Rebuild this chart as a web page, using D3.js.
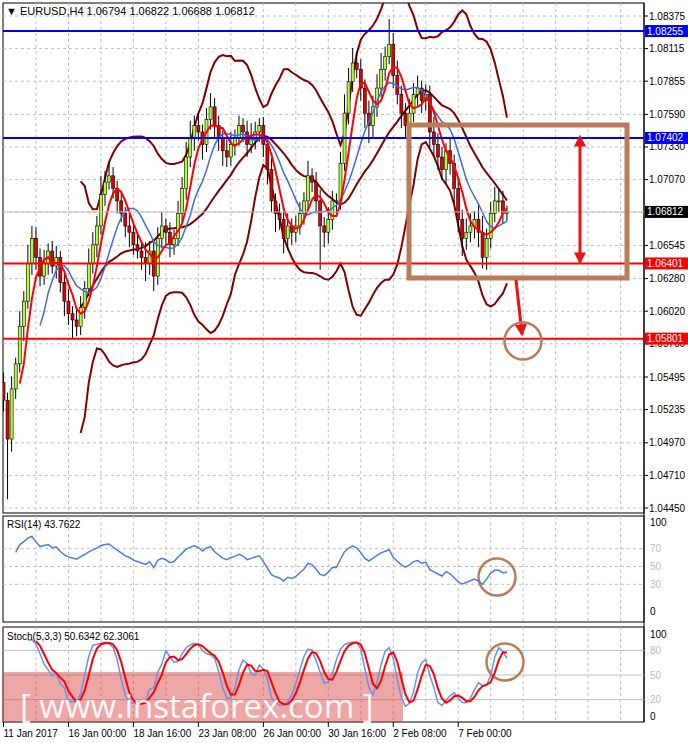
<!DOCTYPE html>
<html><head><meta charset="utf-8">
<script src="https://cdnjs.cloudflare.com/ajax/libs/d3/7.8.5/d3.min.js"></script>
<style>body{margin:0;background:#fff}svg{display:block;font-family:"Liberation Sans",Arial,sans-serif}</style>
</head><body>
<script>
const closes=[1.0531,1.0500,1.0540,1.0560,1.0590,1.0610,1.0640,1.0660,1.0645,1.0630,1.0640,1.0650,1.0638,1.0645,1.0625,1.0610,1.0600,1.0595,1.0590,1.0605,
1.0620,1.0640,1.0655,1.0670,1.0695,1.0705,1.0710,1.0700,1.0690,1.0680,1.0670,1.0665,1.0655,1.0650,1.0645,1.0640,1.0650,1.0630,1.0660,1.0670,
1.0665,1.0655,1.0660,1.0680,1.0700,1.0725,1.0740,1.0750,1.0745,1.0735,1.0755,1.0765,1.0750,1.0740,1.0730,1.0725,1.0735,1.0740,1.0750,1.0745,
1.0735,1.0740,1.0745,1.0750,1.0735,1.0715,1.0690,1.0680,1.0675,1.0660,1.0670,1.0665,1.0670,1.0680,1.0690,1.0710,1.0705,1.0690,1.0670,1.0665,
1.0675,1.0690,1.0690,1.0720,1.0760,1.0785,1.0800,1.0795,1.0780,1.0760,1.0750,1.0765,1.0780,1.0795,1.0805,1.0815,1.0790,1.0775,1.0760,1.0750,
1.0760,1.0775,1.0780,1.0770,1.0775,1.0745,1.0735,1.0725,1.0715,1.0730,1.0720,1.0700,1.0675,1.0660,1.0665,1.0670,1.0675,1.0665,1.0645,1.0660,
1.0680,1.0690,1.0690,1.0680,1.06812];
const opens=[1.0545].concat(closes.slice(0,-1));
const upWick=[8,6,10,5,12,8,15,10,9,7,11,6,8,9,5,7,10,6,8,9,6,12,10,8,15,9,11,7,6,8,5,9,7,10,6,12,8,7,9,11,
6,8,7,10,9,12,14,8,10,6,9,11,7,8,6,9,10,7,8,6,9,12,8,6,7,5,9,6,8,7,10,6,8,9,7,12,6,8,9,7,
10,8,6,9,15,11,12,9,8,7,10,9,11,13,8,20,9,12,7,8,11,9,10,6,8,7,12,9,8,6,10,7,9,8,11,10,7,12,13,8,
9,11,10,8,5];
const downWick=[9,48,10,8,7,12,6,9,10,8,7,9,6,10,8,12,9,15,8,7,9,6,8,10,7,9,6,8,10,7,9,12,8,6,10,14,9,12,7,8,
9,10,8,6,7,9,8,10,7,12,6,8,9,10,12,8,7,9,6,8,10,7,9,8,10,12,9,15,8,12,9,10,8,7,9,6,8,10,35,12,
9,8,10,7,6,9,8,7,10,12,14,9,8,7,9,6,10,8,12,9,8,7,9,10,8,12,9,10,8,11,9,12,10,14,9,8,10,12,9,10,
8,7,9,8,6];
const priceTicks=[1.08375,1.08115,1.07855,1.07590,1.07330,1.07070,1.06545,1.06280,1.06020,1.05760,1.05495,1.05235,1.04970,1.04710,1.04450];
const levels=[{v:1.08255,c:"#0000ff"},{v:1.07402,c:"#0000ff"},{v:1.06401,c:"#ff0000"},{v:1.05801,c:"#ff0000"}];
const dateLabels=[[0,"11 Jan 2017"],[16,"16 Jan 00:00"],[32,"18 Jan 16:00"],[48,"23 Jan 08:00"],[64,"26 Jan 00:00"],[80,"30 Jan 16:00"],[96,"2 Feb 08:00"],[112,"7 Feb 00:00"]];
const rsiTicks=[100,70,50,30,0], stochTicks=[100,80,50,20,0];

const W=688,H=743,L=3,R=644;
const svg=d3.select("body").append("svg").attr("width",W).attr("height",H);
const n=closes.length;
const x=d3.scaleLinear().domain([0,8]).range([3.5,3.5+8*4.06]);
const y=d3.scaleLinear().domain([1.04450,1.08375]).range([508,16]);
const yr=d3.scaleLinear().domain([0,100]).range([611,522]);
const ys=d3.scaleLinear().domain([0,100]).range([716,634]);

// indicators
function sma(a,p){return a.map((v,i)=>i<p-1?null:d3.mean(a.slice(i-p+1,i+1)));}
const ma5=sma(closes,5), ma10=sma(closes,10), mid=sma(closes,20);
const up=mid.map((m,i)=>m==null?null:m+2*d3.deviation(closes.slice(i-19,i+1))*1.15);
const dn=mid.map((m,i)=>m==null?null:m-2*d3.deviation(closes.slice(i-19,i+1))*1.15);
const highs=closes.map((c,i)=>Math.max(c,opens[i])+upWick[i]*1e-4);
const lows=closes.map((c,i)=>Math.min(c,opens[i])-downWick[i]*1e-4);
let rsi=[],ag=0,al=0;
for(let i=1;i<n;i++){const d=closes[i]-closes[i-1];const g=Math.max(d,0),l=Math.max(-d,0);
 if(i<=14){ag+=g/14;al+=l/14;}else{ag=(ag*13+g)/14;al=(al*13+l)/14;}
 rsi[i]=i<3?null:100-100/(1+ag/(al||1e-9));}
rsi[0]=null;
const rawK=closes.map((c,i)=>{if(i<4)return null;const h=d3.max(highs.slice(i-4,i+1)),l=d3.min(lows.slice(i-4,i+1));return 100*(c-l)/(h-l);});
const K=rawK.map((v,i)=>i<6?null:d3.mean(rawK.slice(i-2,i+1)));
const D=K.map((v,i)=>i<8?null:d3.mean(K.slice(i-2,i+1)));

function panel(y0,y1){svg.append("rect").attr("x",L).attr("y",y0).attr("width",R-L).attr("height",y1-y0).attr("fill","#fff").attr("stroke","#000");}
panel(3,513);panel(516,622);panel(627,722);
svg.append("line").attr("x1",R).attr("x2",R).attr("y1",3).attr("y2",722).attr("stroke","#000");

const grid=svg.append("g").attr("stroke","#c0c0c0").attr("stroke-dasharray","3,3");
for(let k=8;k<160;k+=8){const gx=x(k);if(gx>=R)break;
 [[3,513],[516,622],[627,722]].forEach(([a,b])=>grid.append("line").attr("x1",gx).attr("x2",gx).attr("y1",a).attr("y2",b));}
priceTicks.concat([1.06810]).forEach(t=>grid.append("line").attr("x1",L).attr("x2",R).attr("y1",y(t)).attr("y2",y(t)));
[70,50,30].forEach(t=>grid.append("line").attr("x1",L).attr("x2",R).attr("y1",yr(t)).attr("y2",yr(t)));
[80,50,20].forEach(t=>svg.append("line").attr("x1",L).attr("x2",R).attr("y1",ys(t)).attr("y2",ys(t)).attr("stroke","#c0c0c0"));

// clip
svg.append("clipPath").attr("id","cm").append("rect").attr("x",L).attr("y",3).attr("width",R-L).attr("height",510);
const m=svg.append("g").attr("clip-path","url(#cm)");
const line=(arr,sc)=>d3.line().defined(d=>d!=null).x((d,i)=>x(i)).y(d=>sc(d))(arr);
[up,dn,mid].forEach(a=>m.append("path").attr("d",line(a,y)).attr("fill","none").attr("stroke","#800000").attr("stroke-width",2));
// candles
closes.forEach((c,i)=>{const o=opens[i];
 m.append("line").attr("x1",x(i)).attr("x2",x(i)).attr("y1",y(highs[i])).attr("y2",y(lows[i])).attr("stroke","#000");
 m.append("rect").attr("x",x(i)-1.5).attr("width",3).attr("y",y(Math.max(o,c))).attr("height",Math.max(1,Math.abs(y(o)-y(c))))
  .attr("fill",c>=o?"#adff2f":"#e00000").attr("stroke","#000").attr("stroke-width",0.6);});
m.append("path").attr("d",line(ma10,y)).attr("fill","none").attr("stroke","#4169e1").attr("stroke-width",1.5);
m.append("path").attr("d",line(ma5,y)).attr("fill","none").attr("stroke","#ff0000").attr("stroke-width",2);
svg.append("line").attr("x1",L).attr("x2",R).attr("y1",y(1.06812)).attr("y2",y(1.06812)).attr("stroke","#c0c0c0");
levels.forEach(l=>svg.append("line").attr("x1",L).attr("x2",R).attr("y1",y(l.v)).attr("y2",y(l.v)).attr("stroke",l.c).attr("stroke-width",2));

// right axis
const ax=svg.append("g").attr("font-size",10).attr("fill","#000");
priceTicks.forEach(t=>{ax.append("line").attr("x1",R).attr("x2",R+4).attr("y1",y(t)).attr("y2",y(t)).attr("stroke","#000");
 ax.append("text").attr("x",649).attr("y",y(t)+3.5).text(t.toFixed(5));});
function box(v,bg){const yy=y(v);svg.append("rect").attr("x",R+1).attr("y",yy-6).attr("width",43).attr("height",12).attr("fill",bg);
 svg.append("text").attr("x",647).attr("y",yy+3.5).attr("font-size",10).attr("fill","#fff").text(v.toFixed(5));}
levels.forEach(l=>box(l.v,l.c));box(1.06812,"#000");

// annotations
svg.append("rect").attr("x",409).attr("y",125).attr("width",218).attr("height",153).attr("fill","none").attr("stroke","#b87c5a").attr("stroke-width",5);
const red="#ee1111";
svg.append("defs").html('<marker id="ah" viewBox="0 0 10 10" refX="8" refY="5" markerWidth="4" markerHeight="4" orient="auto-start-reverse"><path d="M0,0L10,5L0,10z" fill="#ee1111"/></marker>');
svg.append("line").attr("x1",580).attr("x2",580).attr("y1",137).attr("y2",262).attr("stroke",red).attr("stroke-width",3).attr("marker-start","url(#ah)").attr("marker-end","url(#ah)");
svg.append("line").attr("x1",516).attr("x2",522).attr("y1",280).attr("y2",334).attr("stroke",red).attr("stroke-width",3).attr("marker-end","url(#ah)");
[[523,341],[497,577],[505,662]].forEach(([cx,cy])=>svg.append("circle").attr("cx",cx).attr("cy",cy).attr("r",18.5).attr("fill","none").attr("stroke","#b87c5a").attr("stroke-width",2.5));

// RSI
svg.append("path").attr("d",line(rsi,yr)).attr("fill","none").attr("stroke","#4a7fe0").attr("stroke-width",1.5);
rsiTicks.forEach(t=>svg.append("text").attr("x",650).attr("y",yr(t)+3.5).attr("font-size",10).attr("fill",t==100||t==0?"#000":"#bbb").text(t));
svg.append("text").attr("x",7).attr("y",528).attr("font-size",10).text("RSI(14) 43.7622");

// Stoch
svg.append("rect").attr("x",3).attr("y",672).attr("width",400).attr("height",50).attr("fill","rgba(215,60,60,0.45)");
svg.append("path").attr("d",line(K,ys)).attr("fill","none").attr("stroke","#6495ed").attr("stroke-width",1.5);
svg.append("path").attr("d",line(D,ys)).attr("fill","none").attr("stroke","#ff0000").attr("stroke-width",2);
svg.append("text").attr("x",20).attr("y",718).attr("font-size",33).attr("fill","#fff").attr("opacity",0.9).attr("font-family","'Open Sans',sans-serif").text("[ www.instaforex.com ]");
stochTicks.forEach(t=>svg.append("text").attr("x",650).attr("y",ys(t)+3.5).attr("font-size",10).attr("fill",t==100||t==0?"#000":"#bbb").text(t));
svg.append("text").attr("x",7).attr("y",640).attr("font-size",10).text("Stoch(5,3,3) 50.6342 62.3061");

// dates
dateLabels.forEach(([i,s])=>{svg.append("line").attr("x1",x(i)).attr("x2",x(i)).attr("y1",722).attr("y2",727).attr("stroke","#000");
 svg.append("text").attr("x",x(i)).attr("y",737).attr("font-size",10).text(s);});

svg.append("text").attr("x",6).attr("y",15).attr("font-size",11).text("▼ EURUSD,H4  1.06794 1.06822 1.06688 1.06812");
</script>
</body></html>
